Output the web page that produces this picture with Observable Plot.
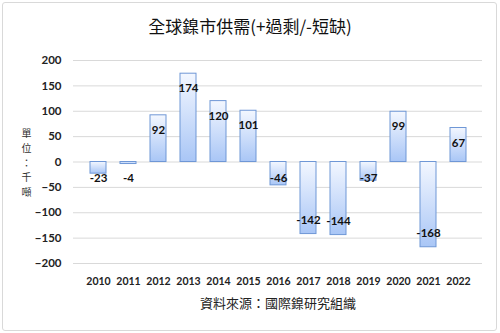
<!DOCTYPE html>
<html><head><meta charset="utf-8">
<script src="https://cdn.jsdelivr.net/npm/d3@7"></script>
<script src="https://cdn.jsdelivr.net/npm/@observablehq/plot@0.6"></script>
<style>
html,body{margin:0;padding:0;background:#fff;}
#wrap{position:relative;width:500px;height:333px;overflow:hidden;}
#border{position:absolute;left:2px;top:2px;width:493px;height:327px;border:1px solid #d9d9d9;border-radius:3px;}
#chart{position:absolute;left:0;top:0;}
</style></head>
<body><div id="wrap"><div id="border"></div><div id="chart"></div></div>
<script>
const years = ["2010","2011","2012","2013","2014","2015","2016","2017","2018","2019","2020","2021","2022"];
const values = [-23,-4,92,174,120,101,-46,-142,-144,-37,99,-168,67];
const yTicks = [-200,-150,-100,-50,0,50,100,150,200];
const titleText = "全球鎳市供需(+過剩/-短缺)";
const yLabel = "單\n位\n：\n千\n噸";
const captionText = "資料來源：國際鎳研究組織";

const data = years.map((y,i)=>({year:y, value:values[i]}));
const latin = "Lato, 'Noto Sans CJK TC', sans-serif";
const cjk = "'Noto Sans CJK TC', sans-serif";

const defs = () => {
  const g = d3.create("svg:g");
  const lg = g.append("defs").append("linearGradient")
    .attr("id","barGrad").attr("x1",0).attr("y1",0).attr("x2",0).attr("y2",1);
  lg.append("stop").attr("offset","0%").attr("stop-color","#f3f7ff");
  lg.append("stop").attr("offset","100%").attr("stop-color","#a9c6f6");
  return g.node();
};

const chart = Plot.plot({
  width: 500, height: 333,
  marginTop: 60, marginBottom: 70, marginLeft: 73, marginRight: 18,
  style: {background: "transparent", fontFamily: latin},
  x: {domain: years, padding: 0.48, label: null, tickSize: 0, tickPadding: 14},
  y: {domain: [-200, 200], ticks: yTicks, label: null, tickSize: 0, tickPadding: 12},
  marks: [
    defs,
    Plot.gridY(yTicks, {stroke: "#d9d9d9", strokeOpacity: 1, strokeWidth: 1}),
    Plot.barY(data, {x: "year", y: "value", fill: "url(#barGrad)", stroke: "#6f97d6", strokeWidth: 1}),
    Plot.text(data.filter(d => d.value > 0), {x: "year", y: "value", text: d => String(d.value), dy: 15, fontWeight: "bold", fontSize: 11.5, fill: "#111"}),
    Plot.text(data.filter(d => d.value <= 0), {x: "year", y: d => Math.min(d.value, -60), text: d => String(d.value), dy: -14, fontWeight: "bold", fontSize: 11.5, fill: "#111"}),
    Plot.axisY(yTicks, {tickSize: 0, tickPadding: 12, fontWeight: "bold", fontSize: 11.5, fill: "#222", label: null}),
    Plot.axisX({tickSize: 0, tickPadding: 14, fontWeight: "bold", fontSize: 10.5, fill: "#222", label: null}),
    Plot.text([titleText], {frameAnchor: "top", lineAnchor: "middle", dy: -33, dx: -28, fontSize: 17, fontFamily: cjk, fill: "#111"}),
    Plot.text([yLabel], {frameAnchor: "left", dx: -47, textAnchor: "middle", fontSize: 10, lineHeight: 1.46, fontFamily: cjk, fill: "#333"}),
    Plot.text([captionText], {frameAnchor: "bottom", lineAnchor: "middle", dy: 40, fontSize: 13, fontFamily: cjk, fill: "#222"})
  ]
});
document.getElementById("chart").appendChild(chart);
</script></body></html>
